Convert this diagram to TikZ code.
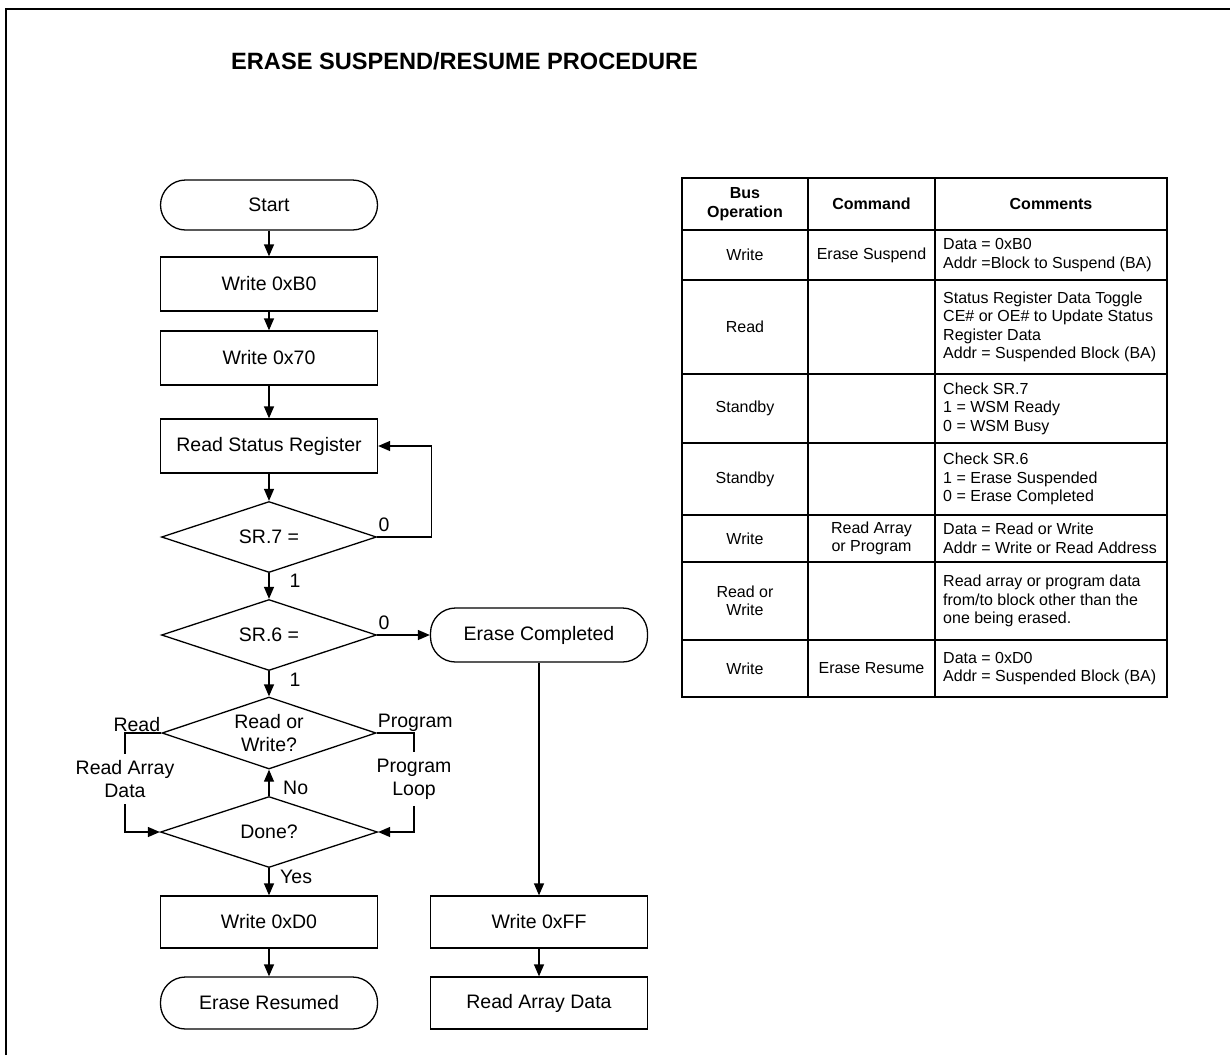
\documentclass[tikz,border=0pt]{standalone}
\usepackage{fontspec}
\setmainfont{Liberation Sans}
\usetikzlibrary{shapes.geometric, arrows.meta}
\begin{document}
\begin{tikzpicture}[x=1pt,y=-1pt,
  every node/.style={font=\fontsize{19.5}{23}\selectfont},
  line/.style={line width=1.3pt},
  arr/.style={line width=1.3pt, -{Triangle[length=12pt,width=10pt]}},
  term/.style={draw, line width=1.3pt, rectangle, rounded corners=25pt, minimum width=217pt, minimum height=51pt, inner sep=0pt},
  box/.style={draw, line width=1.3pt, rectangle, minimum width=217pt, minimum height=54pt, inner sep=0pt},
  dec/.style={draw, line width=1.3pt, diamond, aspect=3, minimum width=215pt, minimum height=71pt, inner sep=0pt, align=center},
  lbl/.style={inner sep=0pt},
  tb/.style={font=\fontsize{16}{18.5}\selectfont, align=center, inner sep=0pt},
  tbl/.style={font=\fontsize{16}{18.5}\selectfont, align=left, anchor=west, inner sep=0pt},
  tbh/.style={font=\bfseries\fontsize{16}{18.5}\selectfont, align=center, inner sep=0pt},
  tline/.style={line width=1.3pt},
]
\useasboundingbox (0,0) rectangle (1230,1055);
% frame
\draw[line width=2.5pt, line join=miter] (6,1055) -- (6,9) -- (1230,9);
% title
\node[anchor=west, font=\bfseries\fontsize{23.6}{27}\selectfont, inner sep=0pt] (title) at (231,61) {ERASE SUSPEND/RESUME PROCEDURE};

% flowchart nodes
\node[term, minimum height=50pt] (start) at (269,205) {Start};
\node[box] (w1) at (269,284) {Write 0xB0};
\node[box] (w2) at (269,358) {Write 0x70};
\node[box] (rsr) at (269,446) {Read Status Register};
\node[dec] (sr7) at (269,537) {SR.7 =};
\node[dec] (sr6) at (269,635) {SR.6 =};
\node[dec, minimum width=214pt, minimum height=72pt] (rw) at (269,733) {Read or\\Write?};
\node[dec, minimum width=217pt] (done) at (269,832) {Done?};
\node[box, minimum height=52pt] (wd0) at (269,922) {Write 0xD0};
\node[term, minimum height=52pt] (eres) at (269,1003) {Erase Resumed};
\node[term, minimum height=54pt] (ec) at (539,635) {Erase Completed};
\node[box, minimum height=52pt] (wff) at (539,922) {Write 0xFF};
\node[box, minimum height=52pt] (rad) at (539,1003) {Read Array Data};

% side labels
\node[align=center, inner xsep=0pt, inner ysep=6.5pt] (rdl) at (125,779) {Read Array\\Data};
\node[align=center, inner xsep=0pt, inner ysep=6.5pt] (pl) at (414,779) {Program\\Loop};

% connectors
\draw[arr] (start) -- (w1);
\draw[arr] (w1) -- (w2);
\draw[arr] (w2) -- (rsr);
\draw[arr] (rsr) -- (sr7);
\draw[arr] (sr7) -- (sr6);
\draw[arr] (sr6) -- (rw);
\draw[arr] (done) -- (rw);
\draw[arr] (done) -- (wd0);
\draw[arr] (wd0) -- (eres);
\draw[arr] (sr6.east) -- (ec.west);
\draw[arr] (ec) -- (wff);
\draw[arr] (wff) -- (rad);
\draw[arr] (sr7.east) -- ++(54,0) |- (rsr.east);
\draw[line] (rw.west) -| (rdl.north);
\draw[arr] (rdl.south) |- (done.west);
\draw[line] (rw.east) -| (pl.north);
\draw[arr] (pl.south) |- (done.east);

% connector labels
\node[lbl] (z7) at (384,525) {0};
\node[lbl] (o7) at (295,581) {1};
\node[lbl] (z6) at (384,623) {0};
\node[lbl] (o6) at (295,680) {1};
\node[lbl, anchor=west] (no) at (283,788) {No};
\node[lbl, anchor=west] (yes) at (280,877) {Yes};
\node[anchor=south east, inner sep=1pt] (rdlab) at (rw.west) {Read};
\node[anchor=south west, inner sep=1pt] (prlab) at (rw.east) {Program};

% table
\draw[tline] (682,178) rectangle (1167,697);
\draw[tline] (808,178) -- (808,697);
\draw[tline] (935,178) -- (935,697);
\foreach \yy in {230,280,374,443,515,562,640} {\draw[tline] (682,\yy) -- (1167,\yy);}

\node[tbh] (h1) at (745,204) {Bus\\Operation};
\node[tbh] (h2) at (871.5,204) {Command};
\node[tbh] (h3) at (1051,204) {Comments};

\node[tb] (a1) at (745,255) {Write};
\node[tb] (b1) at (871.5,255) {Erase Suspend};
\node[tbl] (c1) at (943,255) {Data = 0xB0\\Addr =Block to Suspend (BA)};

\node[tb] (a2) at (745,327) {Read};
\node[tbl] (c2) at (943,327) {Status Register Data Toggle\\CE\# or OE\# to Update Status\\Register Data\\Addr = Suspended Block (BA)};

\node[tb] (a3) at (745,408.5) {Standby};
\node[tbl] (c3) at (943,408.5) {Check SR.7\\1 = WSM Ready\\0 = WSM Busy};

\node[tb] (a4) at (745,479) {Standby};
\node[tbl] (c4) at (943,479) {Check SR.6\\1 = Erase Suspended\\0 = Erase Completed};

\node[tb] (a5) at (745,538.5) {Write};
\node[tb] (b5) at (871.5,538.5) {Read Array\\or Program};
\node[tbl] (c5) at (943,538.5) {Data = Read or Write\\Addr = Write or Read Address};

\node[tb] (a6) at (745,601) {Read or\\Write};
\node[tbl] (c6) at (943,601) {Read array or program data\\from/to block other than the\\one being erased.};

\node[tb] (a7) at (745,668.5) {Write};
\node[tb] (b7) at (871.5,668.5) {Erase Resume};
\node[tbl] (c7) at (943,668.5) {Data = 0xD0\\Addr = Suspended Block (BA)};
\end{tikzpicture}
\end{document}
